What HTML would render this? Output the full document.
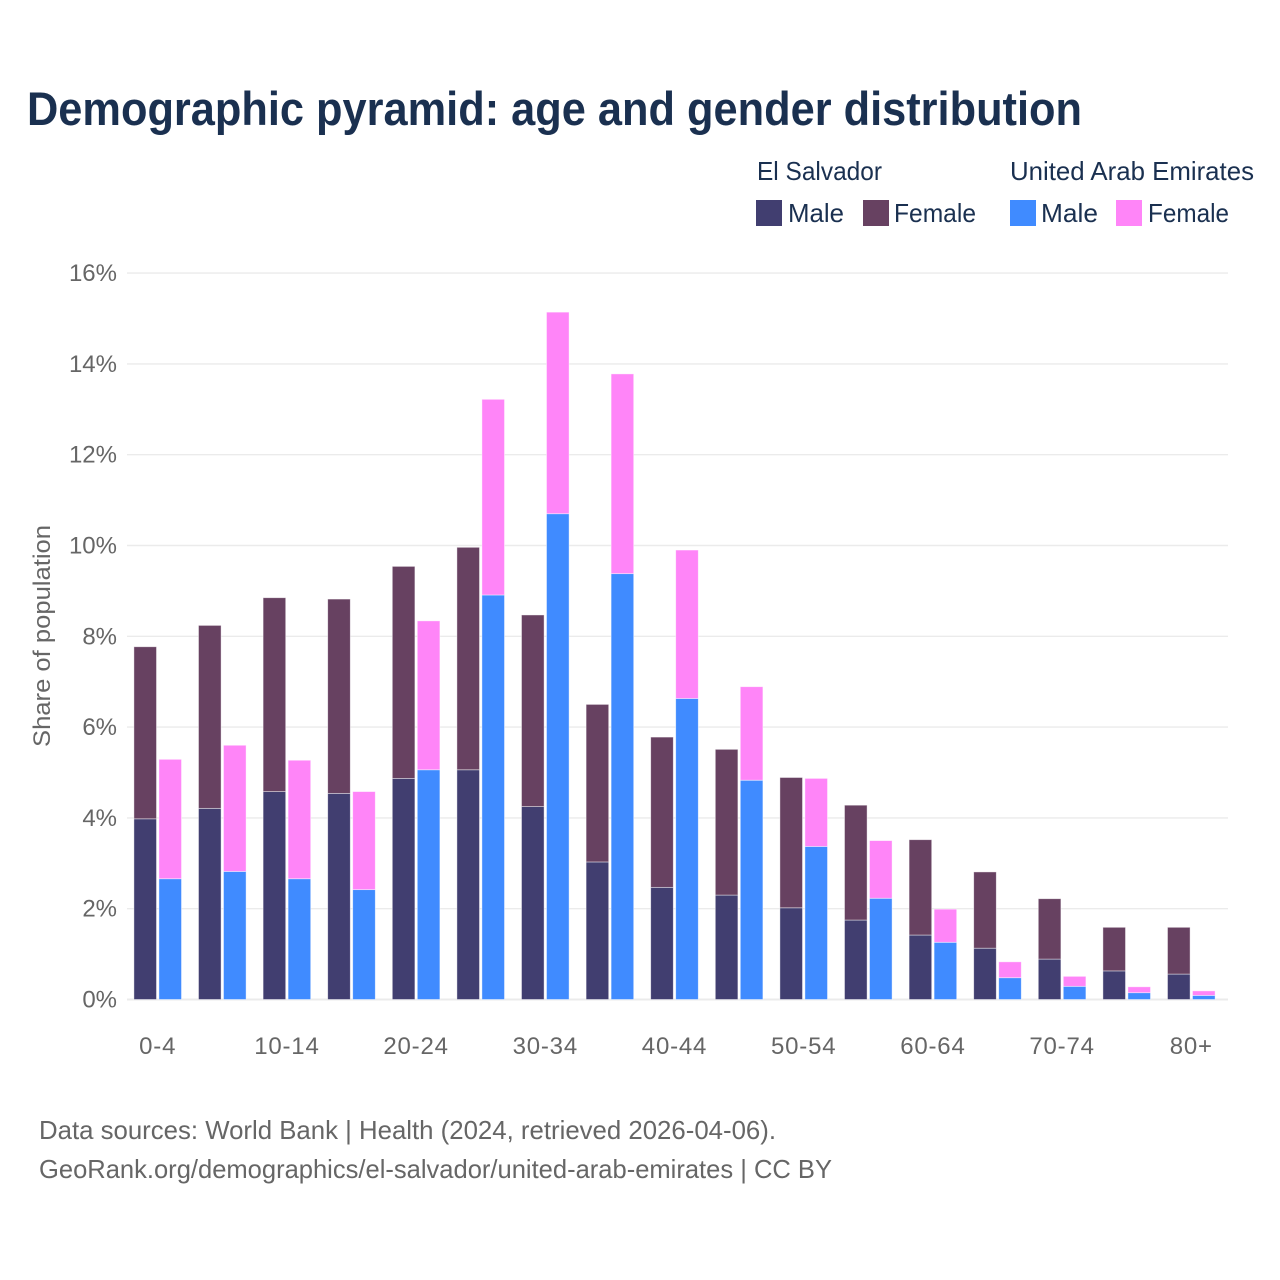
<!DOCTYPE html>
<html lang="en">
<head>
<meta charset="utf-8">
<title>Demographic pyramid: age and gender distribution</title>
<style>
  html, body { margin: 0; padding: 0; background: #fff; }
  svg { display: block; font-family: "Liberation Sans", Arial, sans-serif; }
  .title { font-size: 47px; font-weight: 700; fill: #1a3050; }
  .legend { font-size: 26px; fill: #1a3050; }
  .tick { font-size: 24px; fill: #666666; }
  .x-tick { letter-spacing: 0.8px; }
  .axis-title { font-size: 24px; fill: #666666; }
  .source { font-size: 26px; fill: #666666; }
</style>
</head>
<body>
<svg id="chart" width="1280" height="1280" viewBox="0 0 1280 1280" xmlns="http://www.w3.org/2000/svg">
  <rect x="0" y="0" width="1280" height="1280" fill="#ffffff"/>
  <text class="title" x="27" y="125" textLength="1055" lengthAdjust="spacingAndGlyphs">Demographic pyramid: age and gender distribution</text>

  <g>
    <text class="legend" x="757" y="180" textLength="125" lengthAdjust="spacingAndGlyphs">El Salvador</text>
    <text class="legend" x="1010" y="180" textLength="244" lengthAdjust="spacingAndGlyphs">United Arab Emirates</text>
    <rect x="756" y="200" width="26" height="26" fill="#413e70"/>
    <text class="legend" x="788" y="222" textLength="56" lengthAdjust="spacingAndGlyphs">Male</text>
    <rect x="863" y="200" width="26" height="26" fill="#674161"/>
    <text class="legend" x="894" y="222" textLength="82" lengthAdjust="spacingAndGlyphs">Female</text>
    <rect x="1010" y="200" width="26" height="26" fill="#408bff"/>
    <text class="legend" x="1041" y="222" textLength="57" lengthAdjust="spacingAndGlyphs">Male</text>
    <rect x="1116" y="200" width="26" height="26" fill="#ff85f8"/>
    <text class="legend" x="1148" y="222" textLength="81" lengthAdjust="spacingAndGlyphs">Female</text>
  </g>

  <g id="grid"></g>
  <g id="yticks"></g>
  <g id="bars"></g>
  <g id="xticks"></g>

  <text class="axis-title" transform="translate(50 636) rotate(-90)" text-anchor="middle" textLength="222" lengthAdjust="spacingAndGlyphs">Share of population</text>

  <text class="source" x="39" y="1139" textLength="737" lengthAdjust="spacingAndGlyphs">Data sources: World Bank | Health (2024, retrieved 2026-04-06).</text>
  <text class="source" x="39" y="1178" textLength="793" lengthAdjust="spacingAndGlyphs">GeoRank.org/demographics/el-salvador/united-arab-emirates | CC BY</text>
</svg>
<script>
const ageGroups = ["0-4","5-9","10-14","15-19","20-24","25-29","30-34","35-39","40-44","45-49","50-54","55-59","60-64","65-69","70-74","75-79","80+"];
const xTickLabels = ["0-4","10-14","20-24","30-34","40-44","50-54","60-64","70-74","80+"];
const yTickValues = [0,2,4,6,8,10,12,14,16];
const elSalvadorMale = [3.98,4.21,4.58,4.54,4.87,5.06,4.25,3.03,2.47,2.30,2.02,1.75,1.42,1.13,0.89,0.63,0.56];
const elSalvadorFemale = [3.79,4.03,4.27,4.28,4.67,4.90,4.22,3.47,3.31,3.21,2.87,2.53,2.10,1.68,1.33,0.96,1.03];
const uaeMale = [2.66,2.82,2.66,2.42,5.06,8.91,10.70,9.38,6.63,4.83,3.37,2.23,1.26,0.48,0.29,0.15,0.09];
const uaeFemale = [2.63,2.78,2.61,2.16,3.28,4.31,4.44,4.40,3.27,2.06,1.50,1.27,0.73,0.35,0.22,0.13,0.10];

const NS = 'http://www.w3.org/2000/svg';
const plotLeft = 125.4, plotRight = 1228, bandStep = 64.6;
const yBase = 999.5, pxPerUnit = 45.4;
const barWidth = 22.6, barGap = 2.4;

function yScale(v) { return yBase - v * pxPerUnit; }
function xCenter(i) { return plotLeft + bandStep * (i + 0.5); }

const grid = document.getElementById('grid');
const yticks = document.getElementById('yticks');
const bars = document.getElementById('bars');
const xticks = document.getElementById('xticks');

yTickValues.forEach(function (v) {
  const line = document.createElementNS(NS, 'line');
  line.setAttribute('x1', 127);
  line.setAttribute('x2', plotRight);
  line.setAttribute('y1', yScale(v));
  line.setAttribute('y2', yScale(v));
  line.setAttribute('stroke', '#ebebeb');
  line.setAttribute('stroke-width', v === 0 ? 2 : 1.4);
  
  
  grid.appendChild(line);

  const label = document.createElementNS(NS, 'text');
  label.setAttribute('class', 'tick');
  label.setAttribute('x', 117);
  label.setAttribute('y', yScale(v) + 8);
  label.setAttribute('text-anchor', 'end');
  label.textContent = v + '%';
  
  
  yticks.appendChild(label);
});

function addBar(x, low, high, fill, name) {
  const r = document.createElementNS(NS, 'rect');
  r.setAttribute('x', x);
  r.setAttribute('y', yScale(high));
  r.setAttribute('width', barWidth);
  r.setAttribute('height', yScale(low) - yScale(high));
  r.setAttribute('fill', fill);
  r.setAttribute('stroke', '#ffffff');
  r.setAttribute('stroke-opacity', '0.55');
  r.setAttribute('stroke-width', '0.8');
  
  
  bars.appendChild(r);
}

ageGroups.forEach(function (group, i) {
  const c = xCenter(i);
  const xEs = c - barGap / 2 - barWidth;
  const xUae = c + barGap / 2;
  addBar(xEs, 0, elSalvadorMale[i], '#413e70', 'bar-el-salvador-male-' + group);
  addBar(xEs, elSalvadorMale[i], elSalvadorMale[i] + elSalvadorFemale[i], '#674161', 'bar-el-salvador-female-' + group);
  addBar(xUae, 0, uaeMale[i], '#408bff', 'bar-uae-male-' + group);
  addBar(xUae, uaeMale[i], uaeMale[i] + uaeFemale[i], '#ff85f8', 'bar-uae-female-' + group);
});

xTickLabels.forEach(function (labelText) {
  const t = document.createElementNS(NS, 'text');
  t.setAttribute('class', 'tick x-tick');
  t.setAttribute('x', xCenter(ageGroups.indexOf(labelText)));
  t.setAttribute('y', 1054);
  t.setAttribute('text-anchor', 'middle');
  t.textContent = labelText;
  
  
  xticks.appendChild(t);
});
</script>
</body>
</html>
